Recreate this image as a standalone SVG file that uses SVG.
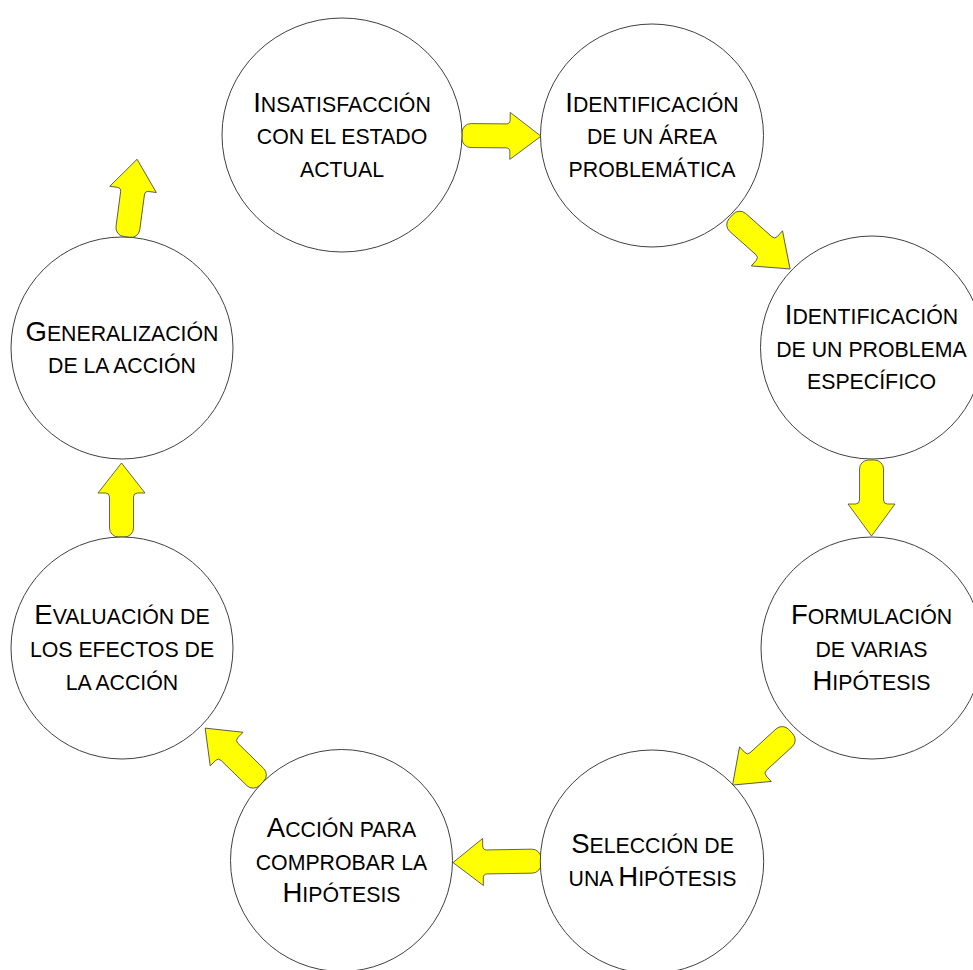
<svg xmlns="http://www.w3.org/2000/svg" width="973" height="970" viewBox="0 0 973 970">
<style>
.node circle, .node ellipse { fill: #ffffff; stroke: #404040; stroke-width: 1; }
.lbl { font-family: "Liberation Sans", Arial, sans-serif; font-size: 21.3px; fill: #000000; text-anchor: middle; }
.cap { font-size: 27.5px; }
.arrow { fill: #ffff00; stroke: #404040; stroke-width: 0.8; stroke-linejoin: miter; }
</style>
<rect x="0" y="0" width="973" height="970" fill="#ffffff"/>

<g id="connectors">
  <path class="arrow" transform="translate(462,135.5) rotate(0.5)" d="M9,-12 H44 Q48,-12 48,-16 V-23.5 L79,0 L48,23.5 V16 Q48,12 44,12 H9 A9,9 0 0 1 0,3 V-3 A9,9 0 0 1 9,-12 Z"/>
  <path class="arrow" transform="translate(731,216.5) rotate(41.6)" d="M9,-12 H44 Q48,-12 48,-16 V-23.5 L79,0 L48,23.5 V16 Q48,12 44,12 H9 A9,9 0 0 1 0,3 V-3 A9,9 0 0 1 9,-12 Z"/>
  <path class="arrow" transform="translate(871.5,460) rotate(90)" d="M9,-12 H40 Q44,-12 44,-16 V-23.5 L76,0 L44,23.5 V16 Q44,12 40,12 H9 A9,9 0 0 1 0,3 V-3 A9,9 0 0 1 9,-12 Z"/>
  <path class="arrow" transform="translate(790.8,731.7) rotate(137.5)" d="M9,-12 H44 Q48,-12 48,-16 V-23.5 L79,0 L48,23.5 V16 Q48,12 44,12 H9 A9,9 0 0 1 0,3 V-3 A9,9 0 0 1 9,-12 Z"/>
  <path class="arrow" transform="translate(541,861) rotate(179)" d="M9,-12 H54 Q58,-12 58,-16 V-23.5 L88,0 L58,23.5 V16 Q58,12 54,12 H9 A9,9 0 0 1 0,3 V-3 A9,9 0 0 1 9,-12 Z"/>
  <path class="arrow" transform="translate(261.7,783.3) rotate(-135.7)" d="M9,-12 H45 Q49,-12 49,-16 V-23.5 L79,0 L49,23.5 V16 Q49,12 45,12 H9 A9,9 0 0 1 0,3 V-3 A9,9 0 0 1 9,-12 Z"/>
  <path class="arrow" transform="translate(121.5,537) rotate(-90)" d="M9,-12 H40 Q44,-12 44,-16 V-23.5 L74,0 L44,23.5 V16 Q44,12 40,12 H9 A9,9 0 0 1 0,3 V-3 A9,9 0 0 1 9,-12 Z"/>
  <path class="arrow" transform="translate(126.7,237) rotate(-82.4)" d="M9,-12 H44 Q48,-12 48,-16 V-23.5 L78.4,0 L48,23.5 V16 Q48,12 44,12 H9 A9,9 0 0 1 0,3 V-3 A9,9 0 0 1 9,-12 Z"/>
</g>

<g id="n1" class="node">
  <ellipse cx="342" cy="135" rx="120" ry="117"/>
  <text class="lbl" x="342" y="111.5"><tspan class="cap">I</tspan>NSATISFACCIÓN</text>
  <text class="lbl" x="342" y="144">CON EL ESTADO</text>
  <text class="lbl" x="342" y="176.5">ACTUAL</text>
</g>
<g id="n2" class="node">
  <circle cx="652" cy="135.5" r="111.5"/>
  <text class="lbl" x="652" y="111.5"><tspan class="cap">I</tspan>DENTIFICACIÓN</text>
  <text class="lbl" x="652" y="144">DE UN ÁREA</text>
  <text class="lbl" x="652" y="177">PROBLEMÁTICA</text>
</g>
<g id="n3" class="node">
  <circle cx="872" cy="347.5" r="111.5"/>
  <text class="lbl" x="871.5" y="324"><tspan class="cap">I</tspan>DENTIFICACIÓN</text>
  <text class="lbl" x="871.5" y="357">DE UN PROBLEMA</text>
  <text class="lbl" x="871.5" y="389">ESPECÍFICO</text>
</g>
<g id="n4" class="node">
  <circle cx="872" cy="648" r="111"/>
  <text class="lbl" x="871.5" y="624"><tspan class="cap">F</tspan>ORMULACIÓN</text>
  <text class="lbl" x="871.5" y="657">DE VARIAS</text>
  <text class="lbl" x="871.5" y="690"><tspan class="cap">H</tspan>IPÓTESIS</text>
</g>
<g id="n5" class="node">
  <circle cx="652" cy="861.7" r="111.7"/>
  <text class="lbl" x="652.5" y="852.5"><tspan class="cap">S</tspan>ELECCIÓN DE</text>
  <text class="lbl" x="652.5" y="885.5">UNA <tspan class="cap">H</tspan>IPÓTESIS</text>
</g>
<g id="n6" class="node">
  <circle cx="341.5" cy="860.5" r="111"/>
  <text class="lbl" x="341.5" y="837"><tspan class="cap">A</tspan>CCIÓN PARA</text>
  <text class="lbl" x="341.5" y="869.5">COMPROBAR LA</text>
  <text class="lbl" x="341.5" y="902"><tspan class="cap">H</tspan>IPÓTESIS</text>
</g>
<g id="n7" class="node">
  <circle cx="122" cy="648" r="111"/>
  <text class="lbl" x="122" y="624"><tspan class="cap">E</tspan>VALUACIÓN DE</text>
  <text class="lbl" x="122" y="657">LOS EFECTOS DE</text>
  <text class="lbl" x="122" y="689.5">LA ACCIÓN</text>
</g>
<g id="n8" class="node">
  <circle cx="122" cy="348" r="111"/>
  <text class="lbl" x="122" y="341"><tspan class="cap">G</tspan>ENERALIZACIÓN</text>
  <text class="lbl" x="122" y="373">DE LA ACCIÓN</text>
</g>
</svg>
